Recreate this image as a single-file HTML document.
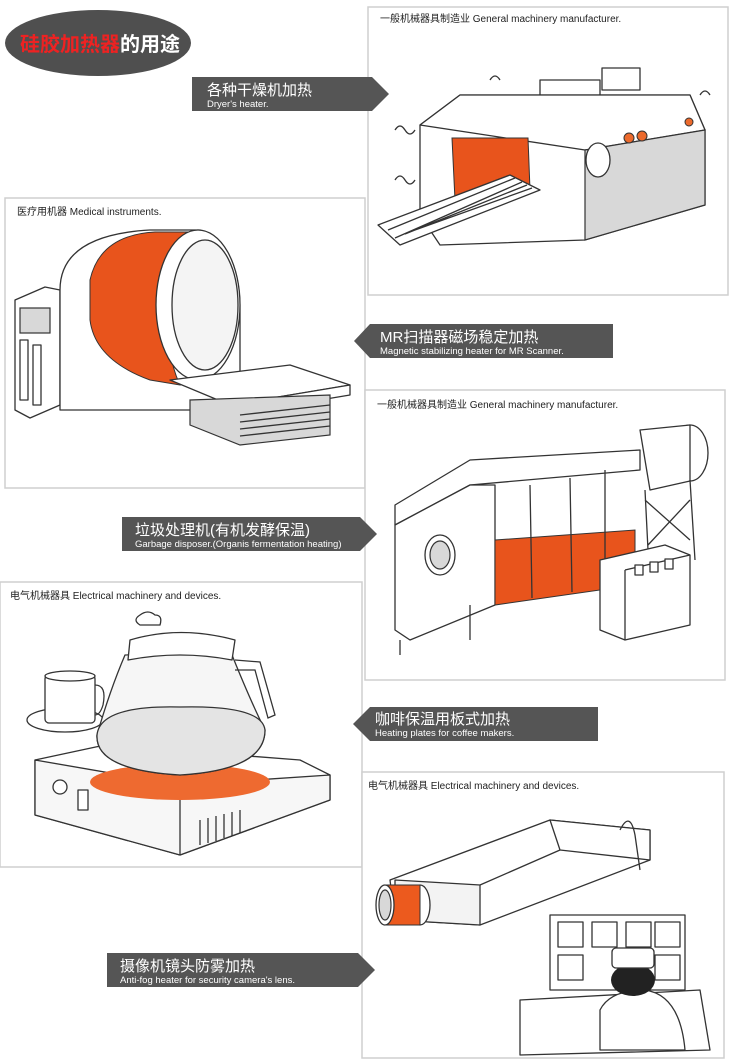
<!DOCTYPE html>
<html><head><meta charset="utf-8"><style>
html,body{margin:0;padding:0;background:#fff;width:730px;height:1061px;overflow:hidden}
svg{display:block}
text{font-family:"Liberation Sans","Noto Sans CJK SC",sans-serif}
.p{fill:#fff;stroke:#cfcfcf;stroke-width:1.5}
.l{fill:#fff;stroke:#333;stroke-width:1.3;stroke-linejoin:round}
.n{fill:none;stroke:#333;stroke-width:1.3}
.o{fill:#ec6a2c;stroke:#333;stroke-width:1}
.g{fill:#d8d8d8;stroke:#333;stroke-width:1.2}
.lab{font-size:10px;fill:#222}
.bt{font-size:15px;fill:#fff}
.bs{font-size:9.5px;fill:#fff}
</style></head><body>
<svg width="730" height="1061" viewBox="0 0 730 1061">
<!-- title -->
<ellipse cx="98" cy="43" rx="93" ry="33" fill="#4f4f4f"/>
<text x="20" y="51" font-size="20" font-weight="bold" fill="#ee2222" textLength="160" lengthAdjust="spacingAndGlyphs" style="font-family:'Noto Sans CJK SC',sans-serif">硅胶加热器<tspan fill="#fff">的用途</tspan></text>

<!-- panel 1 -->
<rect class="p" x="368" y="7" width="360" height="288"/>
<text class="lab" x="380" y="22">一般机械器具制造业  General machinery manufacturer.</text>
<g>
<rect class="l" x="602" y="68" width="38" height="22"/>
<rect class="l" x="540" y="80" width="60" height="18"/>
<polygon class="l" points="420,125 460,95 690,95 705,130 705,205 585,240 440,245 420,215"/>
<polygon class="l" points="460,95 690,95 705,130 585,150 420,125"/>
<polygon class="g" points="585,150 705,130 705,205 585,240"/>
<ellipse class="l" cx="598" cy="160" rx="12" ry="17"/>
<circle class="o" cx="629" cy="138" r="5"/><circle class="o" cx="642" cy="136" r="5"/><circle class="o" cx="689" cy="122" r="4"/>
<polygon class="o" points="452,138 528,138 530,190 455,200" style="fill:#e8541c"/>
<polygon class="l" points="378,225 510,175 540,190 400,245"/>
<path class="n" d="M395,238 L522,182 M405,234 L527,185 M415,230 L532,188 M388,230 L515,178"/>
<path class="n" d="M395,130 q5,-8 10,0 q5,8 10,0 M395,180 q5,-8 10,0 q5,8 10,0 M490,80 q5,-8 10,0 M700,95 q5,-8 10,0"/>
</g>
<polygon points="192,77 372,77 389,94 372,111 192,111" fill="#555"/>
<text class="bt" x="207" y="95">各种干燥机加热</text>
<text class="bs" x="207" y="107">Dryer's heater.</text>

<!-- panel 2 -->
<rect class="p" x="5" y="198" width="360" height="290"/>
<text class="lab" x="17" y="215">医疗用机器  Medical instruments.</text>
<polygon class="l" points="15,300 45,287 60,290 60,405 30,418 15,410"/>
<rect class="g" x="20" y="308" width="30" height="25"/>
<rect class="l" x="20" y="340" width="8" height="60"/><rect class="l" x="33" y="345" width="8" height="60"/>
<path class="l" d="M60,290 Q60,235 150,230 L200,230 Q240,245 240,310 L240,410 L60,410 Z"/>
<path class="o" d="M90,280 Q100,235 155,232 L200,232 Q170,250 165,310 Q168,360 180,385 L150,380 Q95,360 90,320 Z" style="fill:#e8541c"/>
<ellipse class="l" cx="198" cy="305" rx="42" ry="75"/>
<ellipse class="l" cx="205" cy="305" rx="33" ry="65" style="fill:#f4f4f4"/>
<polygon class="l" points="170,380 290,365 350,385 230,405"/>
<polygon class="l" points="230,405 350,385 350,395 230,415"/>
<polygon class="g" points="190,400 330,395 330,435 240,445 190,425"/>
<path class="n" d="M240,415 L330,405 M240,422 L330,412 M240,429 L330,419 M240,436 L330,426"/>
<polygon points="370,324 354,341 370,358 613,358 613,324" fill="#555"/>
<text class="bt" x="380" y="342">MR扫描器磁场稳定加热</text>
<text class="bs" x="380" y="354">Magnetic stabilizing heater for MR Scanner.</text>

<!-- panel 3 -->
<rect class="p" x="365" y="390" width="360" height="290"/>
<text class="lab" x="377" y="408">一般机械器具制造业  General machinery manufacturer.</text>
<ellipse class="l" cx="690" cy="453" rx="18" ry="28"/>
<polygon class="l" points="640,430 690,425 690,481 650,490"/>
<path class="n" d="M645,490 L650,590 M690,480 L695,560 M645,500 L690,540 M690,500 L648,545"/>
<polygon class="l" points="395,505 470,460 640,450 640,470 470,485 395,525"/>
<polygon class="l" points="395,525 470,485 495,485 495,605 410,640 395,630"/>
<ellipse class="l" cx="440" cy="555" rx="15" ry="20"/>
<ellipse class="g" cx="440" cy="555" rx="10" ry="14"/>
<polygon class="o" points="495,540 635,530 635,585 495,605" style="fill:#e8541c"/>
<path class="n" d="M530,485 L532,598 M570,478 L572,592 M605,470 L605,588"/>
<polygon class="l" points="600,560 665,545 690,555 690,625 625,640 600,630"/>
<path class="n" d="M625,570 L625,640 M625,570 L690,555"/>
<rect class="l" x="635" y="565" width="8" height="10"/><rect class="l" x="650" y="562" width="8" height="10"/><rect class="l" x="665" y="559" width="8" height="10"/>
<path class="n" d="M400,640 L400,655 M470,605 L470,640"/>
<polygon points="122,517 360,517 377,534 360,551 122,551" fill="#555"/>
<text class="bt" x="135" y="535">垃圾处理机(有机发酵保温)</text>
<text class="bs" x="135" y="547">Garbage disposer.(Organis fermentation heating)</text>

<!-- panel 4 -->
<rect class="p" x="0" y="582" width="362" height="285"/>
<text class="lab" x="10" y="599">电气机械器具  Electrical machinery and devices.</text>
<ellipse class="l" cx="65" cy="720" rx="38" ry="12"/>
<rect class="l" x="45" y="675" width="50" height="48" rx="4"/>
<ellipse class="l" cx="70" cy="676" rx="25" ry="5"/>
<path class="n" d="M95,685 q12,0 8,20 q-3,10 -8,10"/>
<polygon class="l" points="35,760 105,745 300,760 330,775 330,800 180,855 35,815"/>
<polygon class="l" points="35,760 180,785 330,775 330,800 180,855 35,815" style="fill:#f7f7f7"/>
<path class="n" d="M180,785 L180,855"/>
<ellipse class="o" cx="180" cy="782" rx="90" ry="18" style="fill:#ee6a30;stroke:none"/>
<path class="l" d="M125,655 L230,650 Q250,700 265,730 Q265,770 180,775 Q95,770 97,735 Q110,690 125,655 Z" style="fill:#f6f6f6"/>
<path class="l" d="M97,735 Q100,705 180,707 Q262,705 265,730 Q265,770 180,775 Q95,770 97,735 Z" style="fill:#e4e4e4"/>
<path class="l" d="M130,640 Q180,625 235,640 L232,660 Q180,650 128,660 Z"/>
<path class="n" d="M235,660 L260,662 L275,715 L268,718 L255,670 L235,670"/>
<path class="n" d="M140,625 q-8,-5 0,-10 q8,-6 15,0 q8,0 5,10 z"/>
<circle class="l" cx="60" cy="787" r="7"/><rect class="l" x="78" y="790" width="10" height="20"/>
<path class="n" d="M200,820 L200,845 M208,818 L208,843 M216,816 L216,841 M224,814 L224,838 M232,812 L232,836 M240,810 L240,833"/>
<polygon points="370,707 353,724 370,741 598,741 598,707" fill="#555"/>
<text class="bt" x="375" y="724">咖啡保温用板式加热</text>
<text class="bs" x="375" y="736">Heating plates for coffee makers.</text>

<!-- panel 5 -->
<rect class="p" x="362" y="772" width="362" height="286"/>
<text class="lab" x="368" y="789">电气机械器具  Electrical machinery and devices.</text>
<polygon class="l" points="390,880 550,820 650,830 650,860 480,925 395,920"/>
<polygon class="l" points="550,820 650,830 650,860 560,850"/>
<polygon class="l" points="395,880 480,885 480,925 395,920" style="fill:#f3f3f3"/>
<path class="n" d="M480,885 L560,850 M620,830 q10,-20 15,5 L640,870"/>
<ellipse class="l" cx="420" cy="905" rx="10" ry="20"/>
<polygon class="o" points="385,885 420,885 420,925 385,925" style="fill:#ec5a1e"/>
<ellipse class="l" cx="385" cy="905" rx="9" ry="20"/>
<ellipse class="g" cx="385" cy="905" rx="6" ry="15"/>
<rect class="l" x="550" y="915" width="135" height="75"/>
<rect class="l" x="558" y="922" width="25" height="25"/><rect class="l" x="592" y="922" width="25" height="25"/><rect class="l" x="626" y="922" width="25" height="25"/><rect class="l" x="655" y="922" width="25" height="25"/>
<rect class="l" x="558" y="955" width="25" height="25"/><rect class="l" x="655" y="955" width="25" height="25"/>
<polygon class="l" points="520,1000 700,990 710,1050 520,1055"/>
<path class="l" d="M600,1050 L600,1010 Q610,990 645,990 Q680,995 685,1050 Z"/>
<ellipse cx="633" cy="980" rx="22" ry="16" fill="#222"/>
<rect class="l" x="612" y="948" width="42" height="20" rx="4"/>
<polygon points="107,953 358,953 375,970 358,987 107,987" fill="#555"/>
<text class="bt" x="120" y="971">摄像机镜头防雾加热</text>
<text class="bs" x="120" y="983">Anti-fog heater for security camera's lens.</text>
</svg>
</body></html>
